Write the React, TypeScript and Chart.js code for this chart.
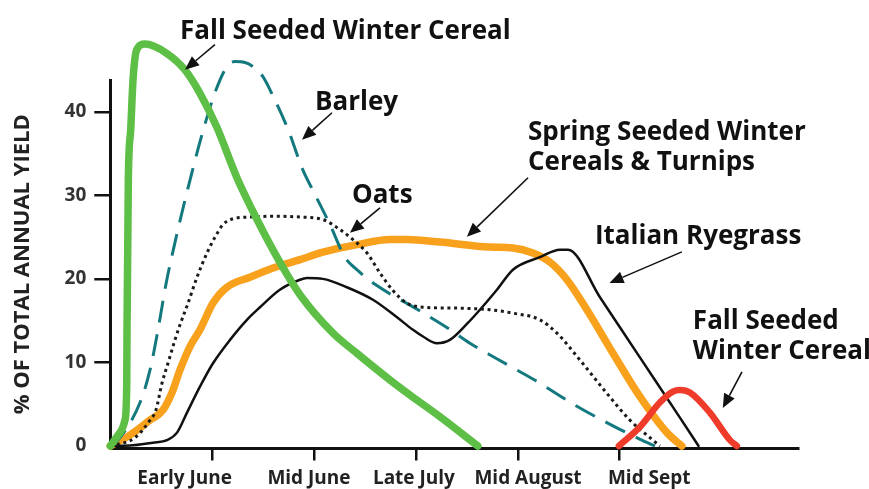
import React, { useEffect, useRef } from 'react';
import { Chart, registerables } from 'chart.js';

Chart.register(...registerables);

// ---------- axis data ----------
const xTickPositions = [1, 2, 3, 4, 5];
const xLabelPositions = [0.73, 1.95, 2.98, 4.1, 5.29];
const xLabels = ['Early June', 'Mid June', 'Late July', 'Mid August', 'Mid Sept'];
const yTicks = [0, 10, 20, 30, 40];
const xMin = 0;
const xMax = 6.75;
const yMin = -0.3;
const yMax = 43.8;

// ---------- series ([x, % of total annual yield]) ----------
type Pt = [number, number];

const fallSeededEarly: Pt[] = [
  [0, 0], [0.095, 1.6], [0.144, 3.1], [0.161, 7.1], [0.164, 13.9], [0.177, 31.9],
  [0.2, 37.8], [0.223, 43.8], [0.259, 47.4], [0.341, 48.1], [0.553, 47.0], [0.733, 45.0],
  [0.88, 42.2], [1.044, 38.2], [1.243, 32.1], [1.44, 27.1], [1.664, 22.0], [1.862, 18.1],
  [2.186, 13.5], [2.42, 11.1], [2.745, 7.9], [2.941, 6.1], [3.236, 3.5], [3.608, 0],
];

const barley: Pt[] = [
  [0, 0], [0.076, 0.7], [0.292, 5.2], [0.39, 9.1], [0.468, 13.9], [0.547, 19.4],
  [0.645, 24.9], [0.763, 30.9], [0.91, 37.7], [1.037, 42.6], [1.145, 45.4], [1.224, 46.0],
  [1.322, 45.9], [1.4, 45.4], [1.498, 44.2], [1.6, 41.8], [1.754, 37.6], [1.881, 33.3],
  [2.009, 30.1], [2.156, 26.5], [2.303, 22.6], [2.42, 21.1], [2.617, 19.2], [3.02, 16.3],
  [3.314, 14.1], [3.53, 12.3], [3.785, 10.5], [4.178, 7.8], [4.56, 4.9], [4.92, 2.5],
  [5.2, 0.8], [5.346, 0],
];

const oats: Pt[] = [
  [0, 0], [0.242, 1.0], [0.39, 3.1], [0.448, 4.3], [0.507, 7.5], [0.566, 9.9],
  [0.635, 12.7], [0.684, 14.5], [0.763, 17.1], [0.851, 20.2], [0.949, 23.1], [1.028, 25.0],
  [1.106, 26.5], [1.204, 27.2], [1.371, 27.4], [1.597, 27.5], [1.862, 27.4], [2.087, 27.1],
  [2.254, 25.9], [2.382, 24.7], [2.519, 23.1], [2.647, 20.7], [2.774, 18.6], [2.912, 17.1],
  [3.069, 16.6], [3.402, 16.5], [3.726, 16.3], [3.952, 15.9], [4.217, 15.1], [4.384, 13.5],
  [4.609, 10.3], [4.874, 6.3], [5.1, 3.1], [5.326, 0.7], [5.395, 0],
];

const springSeeded: Pt[] = [
  [0, 0], [0.193, 1.3], [0.39, 3.1], [0.517, 4.3], [0.606, 6.4], [0.684, 9.1],
  [0.782, 11.9], [0.88, 13.9], [1.008, 17.1], [1.145, 19.0], [1.371, 20.2], [1.597, 21.3],
  [1.862, 22.3], [2.087, 23.2], [2.421, 24.1], [2.745, 24.7], [2.912, 24.7], [3.236, 24.4],
  [3.726, 23.8], [3.952, 23.7], [4.148, 23.1], [4.315, 22.0], [4.482, 19.9], [4.678, 16.3],
  [4.934, 11.1], [5.199, 5.9], [5.463, 1.6], [5.61, 0],
];

const italianRyegrass: Pt[] = [
  [0, 0], [0.223, 0.1], [0.419, 0.4], [0.556, 0.7], [0.655, 1.6], [0.753, 4.0],
  [0.88, 7.1], [1.008, 9.9], [1.175, 12.7], [1.341, 15.1], [1.469, 16.6], [1.664, 18.7],
  [1.862, 19.9], [1.93, 20.1], [2.087, 20.0], [2.322, 19.0], [2.578, 17.5], [2.814, 15.4],
  [2.971, 13.9], [3.069, 13.1], [3.206, 12.3], [3.333, 12.7], [3.5, 14.6], [3.628, 16.3],
  [3.795, 18.7], [3.952, 21.1], [4.217, 22.6], [4.413, 23.5], [4.492, 23.5], [4.806, 17.8],
  [5.198, 10.6], [5.591, 3.4], [5.774, 0],
];

const fallSeededLate: Pt[] = [
  [4.992, 0], [5.2, 2.3], [5.394, 5.2], [5.522, 6.5], [5.591, 6.7], [5.689, 6.4],
  [5.885, 4.0], [6.082, 0.7], [6.15, 0],
];

// ---------- annotations (anchored in data units) ----------
const noteTexts = [
  { text: 'Fall Seeded Winter Cereal', x: 0.684, y: 48.68 },
  { text: 'Barley', x: 2.009, y: 40.24 },
  { text: 'Oats', x: 2.372, y: 29.1 },
  { text: 'Spring Seeded Winter', x: 4.1, y: 36.65 },
  { text: 'Cereals & Turnips', x: 4.1, y: 33.05 },
  { text: 'Italian Ryegrass', x: 4.757, y: 24.19 },
  { text: 'Fall Seeded', x: 5.718, y: 13.98 },
  { text: 'Winter Cereal', x: 5.718, y: 10.42 },
];

const noteArrows = [
  { from: [1.027, 48.02], to: [0.733, 45.03] },
  { from: [2.176, 39.88], to: [1.881, 36.65] },
  { from: [2.647, 28.5], to: [2.352, 25.51] },
  { from: [4.1, 32.1], to: [3.5, 25.03] },
  { from: [5.61, 23.23], to: [4.9, 19.52] },
  { from: [6.2, 8.86], to: [6.012, 4.55] },
];

const FONT = '"Open Sans", "DejaVu Sans", sans-serif';

function drawArrow(ctx: CanvasRenderingContext2D, x1: number, y1: number, x2: number, y2: number) {
  const ang = Math.atan2(y2 - y1, x2 - x1);
  const head = 14;
  const half = 6;
  const bx = x2 - head * Math.cos(ang);
  const by = y2 - head * Math.sin(ang);
  ctx.beginPath();
  ctx.moveTo(x1, y1);
  ctx.lineTo(bx, by);
  ctx.lineWidth = 1.6;
  ctx.stroke();
  ctx.beginPath();
  ctx.moveTo(x2, y2);
  ctx.lineTo(bx + half * Math.sin(ang), by - half * Math.cos(ang));
  ctx.lineTo(bx - half * Math.sin(ang), by + half * Math.cos(ang));
  ctx.closePath();
  ctx.fill();
}

const annotationPlugin = {
  id: 'notes',
  afterDatasetsDraw(chart: any) {
    const { ctx, scales } = chart;
    const xs = scales.x;
    const ys = scales.y;
    ctx.save();
    ctx.fillStyle = '#111';
    ctx.strokeStyle = '#111';
    for (const a of noteArrows) {
      drawArrow(
        ctx,
        xs.getPixelForValue(a.from[0]), ys.getPixelForValue(a.from[1]),
        xs.getPixelForValue(a.to[0]), ys.getPixelForValue(a.to[1]),
      );
    }
    ctx.font = `bold 26px ${FONT}`;
    ctx.textAlign = 'left';
    ctx.textBaseline = 'alphabetic';
    for (const t of noteTexts) {
      ctx.fillText(t.text, xs.getPixelForValue(t.x), ys.getPixelForValue(t.y));
    }
    ctx.restore();
  },
};

const toXY = (arr: Pt[]) => arr.map(([x, y]) => ({ x, y }));

function lineDataset(label: string, data: Pt[], color: string, width: number, dash: number[] = []) {
  return {
    label,
    data: toXY(data),
    borderColor: color,
    backgroundColor: color,
    borderWidth: width,
    borderDash: dash,
    borderCapStyle: dash.length ? 'butt' : 'round',
    borderJoinStyle: 'round',
    pointRadius: 0,
    pointHoverRadius: 0,
    cubicInterpolationMode: 'monotone',
    fill: false,
    clip: false,
  };
}

export default function App() {
  const ref = useRef<HTMLCanvasElement>(null);

  useEffect(() => {
    document.body.style.margin = '0';
    const canvas = ref.current;
    if (!canvas) return;
    const chart = new Chart(canvas, {
      type: 'line',
      data: {
        datasets: [
          lineDataset('Fall Seeded Winter Cereal', fallSeededEarly, '#5dbf46', 7.5),
          lineDataset('Fall Seeded Winter Cereal (late)', fallSeededLate, '#ee3b2a', 6.5),
          lineDataset('Oats', oats, '#1a1a1a', 3, [3, 3.7]),
          lineDataset('Italian Ryegrass', italianRyegrass, '#111111', 2.5),
          lineDataset('Barley', barley, '#13797f', 3, [22, 12]),
          lineDataset('Spring Seeded Winter Cereals & Turnips', springSeeded, '#f8a11d', 7.5),
        ] as any,
      },
      options: {
        responsive: false,
        devicePixelRatio: 1,
        animation: false,
        events: [],
        layout: { padding: { top: 80, right: 71, left: 0, bottom: 0 } },
        plugins: { legend: { display: false }, tooltip: { enabled: false } },
        scales: {
          x: {
            type: 'linear',
            position: 'bottom',
            weight: 0,
            min: xMin,
            max: xMax,
            afterBuildTicks: (s: any) => { s.ticks = xTickPositions.map((v) => ({ value: v })); },
            afterFit: (s: any) => { s.height = 14; },
            ticks: { display: false },
            grid: { drawOnChartArea: false, drawTicks: true, tickLength: 12, lineWidth: 2.5, color: '#111' },
            border: { display: true, width: 3, color: '#111' },
          },
          x2: {
            type: 'linear',
            position: 'bottom',
            weight: 1,
            min: xMin,
            max: xMax,
            afterBuildTicks: (s: any) => { s.ticks = xLabelPositions.map((v) => ({ value: v })); },
            afterFit: (s: any) => { s.height = 26.5; },
            ticks: {
              autoSkip: false,
              maxRotation: 0,
              minRotation: 0,
              padding: 4.5,
              color: '#222',
              font: { family: FONT, weight: 'bold', size: 19 },
              callback: (_v: any, i: number) => xLabels[i],
            },
            grid: { display: false, drawTicks: false },
            border: { display: false },
          },
          y: {
            type: 'linear',
            min: yMin,
            max: yMax,
            afterBuildTicks: (s: any) => { s.ticks = yTicks.map((v) => ({ value: v })); },
            afterFit: (s: any) => { s.width = 110.3; },
            ticks: {
              padding: 8,
              color: '#333',
              font: { family: FONT, weight: 'bold', size: 19 },
            },
            grid: {
              drawOnChartArea: false,
              drawTicks: true,
              tickLength: 16,
              lineWidth: 2.5,
              color: (c: any) => (c.tick && c.tick.value === 0 ? 'rgba(0,0,0,0)' : '#111'),
            },
            border: { display: true, width: 3, color: '#111' },
            title: {
              display: true,
              text: '% OF TOTAL ANNUAL YIELD',
              color: '#222',
              font: { family: FONT, weight: 'bold', size: 22 },
              padding: { top: 10, bottom: 0 },
            },
          },
        },
      } as any,
      plugins: [annotationPlugin],
    });
    return () => chart.destroy();
  }, []);

  return (
    <div style={{ width: 869, height: 489, background: '#fff' }}>
      <canvas ref={ref} width={869} height={489} style={{ display: 'block', width: 869, height: 489 }} />
    </div>
  );
}
